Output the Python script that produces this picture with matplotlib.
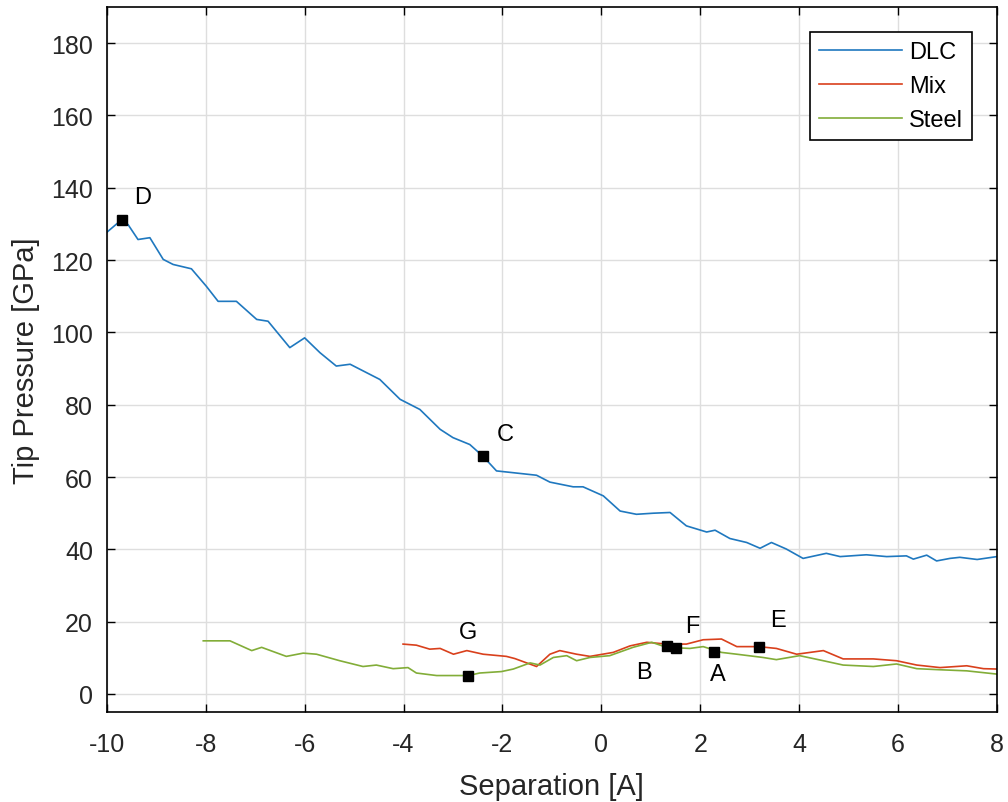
import matplotlib
matplotlib.use("Agg")
import matplotlib.pyplot as plt

plt.rcParams['font.family'] = ['Liberation Sans', 'DejaVu Sans']
plt.rcParams['axes.unicode_minus'] = False

# DLC curve
dlc_x = [-10.0, -9.70, -9.57, -9.37, -9.13, -8.86, -8.66, -8.29, -7.99, -7.75, -7.38, -6.97,
         -6.74, -6.30, -6.00, -5.69, -5.36, -5.08, -4.48, -4.07, -3.67, -3.26, -3.00, -2.66,
         -2.39, -2.12, -1.78, -1.31, -1.04, -0.57, -0.37, 0.04, 0.38, 0.71, 1.05, 1.39, 1.72,
         2.13, 2.30, 2.60, 2.94, 3.21, 3.44, 3.74, 4.08, 4.55, 4.83, 5.36, 5.77, 6.17, 6.31,
         6.58, 6.78, 7.05, 7.25, 7.60, 8.0]
dlc_y = [127.7, 131.2, 129.8, 125.7, 126.2, 120.2, 118.8, 117.6, 112.8, 108.6, 108.6, 103.6,
         103.1, 95.8, 98.5, 94.4, 90.7, 91.2, 87.0, 81.5, 78.7, 73.2, 70.9, 69.0,
         65.7, 61.7, 61.2, 60.5, 58.6, 57.3, 57.3, 54.8, 50.6, 49.7, 50.0, 50.2, 46.5,
         44.8, 45.3, 43.0, 41.9, 40.3, 41.9, 40.1, 37.5, 38.9, 38.0, 38.5, 38.0, 38.2, 37.3,
         38.4, 36.8, 37.5, 37.8, 37.2, 38.0]

# Mix curve
mix_x = [-4.01, -3.74, -3.47, -3.26, -2.99, -2.72, -2.39, -1.92, -1.75, -1.51, -1.31, -1.04,
         -0.84, -0.50, -0.23, 0.24, 0.58, 0.92, 1.32, 1.72, 2.06, 2.43, 2.74, 3.18, 3.54,
         3.95, 4.49, 4.89, 5.50, 5.97, 6.38, 6.85, 7.39, 7.73, 8.0]
mix_y = [13.8, 13.5, 12.4, 12.6, 11.0, 12.0, 11.0, 10.4, 9.8, 8.6, 7.6, 11.0,
         12.0, 11.0, 10.4, 11.5, 13.3, 14.3, 13.8, 13.8, 15.0, 15.2, 13.1, 13.1, 12.6,
         11.0, 12.0, 9.7, 9.7, 9.2, 8.0, 7.3, 7.8, 7.0, 6.9]

# Steel curve
steel_x = [-8.05, -7.51, -7.07, -6.87, -6.37, -6.03, -5.76, -5.29, -4.82, -4.55, -4.21, -3.91,
           -3.74, -3.33, -2.93, -2.69, -2.46, -2.02, -1.78, -1.44, -1.24, -0.97, -0.70, -0.50,
           -0.23, 0.17, 0.64, 1.02, 1.32, 1.79, 2.06, 2.43, 2.74, 3.27, 3.54, 4.01, 4.49,
           4.89, 5.50, 5.97, 6.38, 6.85, 7.39, 8.0]
steel_y = [14.7, 14.7, 12.0, 12.9, 10.4, 11.3, 11.0, 9.2, 7.6, 8.0, 7.0, 7.3,
           5.8, 5.1, 5.1, 5.1, 5.8, 6.2, 6.9, 8.6, 8.0, 10.1, 10.6, 9.2,
           10.1, 10.6, 12.9, 14.3, 12.9, 12.6, 13.1, 11.5, 11.0, 10.1, 9.5, 10.6, 9.2,
           8.0, 7.6, 8.3, 7.0, 6.7, 6.4, 5.5]

# marked points
pt_names = ['D', 'C', 'G', 'B', 'F', 'A', 'E']
pt_x = [-9.70, -2.39, -2.69, 1.32, 1.51, 2.28, 3.18]
pt_y = [131.2, 65.7, 5.1, 13.3, 12.6, 11.7, 13.1]
# label offsets in points
offs = [(15, 16), (16, 16), (0, 31), (-16, -19), (12, 16), (3, -16), (14, 19)]

fig = plt.figure(figsize=(10.08, 8.03), dpi=100)
ax = fig.add_axes([0.106, 0.112, 0.883, 0.878])

ax.plot(dlc_x, dlc_y, color='#1f78bf', lw=1.2, label='DLC')
ax.plot(mix_x, mix_y, color='#d9401c', lw=1.2, label='Mix')
ax.plot(steel_x, steel_y, color='#82ad38', lw=1.2, label='Steel')

ax.plot(pt_x, pt_y, 's', color='black', ms=7, zorder=5)
for n, x, y, o in zip(pt_names, pt_x, pt_y, offs):
    ax.annotate(n, (x, y), xytext=o, textcoords='offset points',
                ha='center', va='center', fontsize=17)

ax.set_xlim(-10, 8)
ax.set_ylim(-5, 190)
ax.set_xticks(range(-10, 9, 2))
ax.set_yticks(range(0, 181, 20))
ax.tick_params(direction='in', top=True, right=True, labelsize=18, length=6, width=1,
               labelcolor='#262626')
ax.tick_params(axis='x', pad=14)
ax.tick_params(axis='y', pad=10)
ax.grid(True, color='#dedede', lw=1)
ax.set_axisbelow(True)
for s in ax.spines.values():
    s.set_linewidth(1.2)

ax.set_xlabel('Separation [A]', fontsize=21, color='#262626', labelpad=12)
ax.set_ylabel('Tip Pressure [GPa]', fontsize=21, color='#262626', labelpad=8)

leg = ax.legend(loc='upper right', fontsize=17, fancybox=False, framealpha=1,
                edgecolor='black', handlelength=3.5, handletextpad=0.3,
                borderaxespad=1.05, labelspacing=0.5, borderpad=0.4)
leg.get_frame().set_linewidth(1.2)

fig.savefig('out.png', dpi=100)
